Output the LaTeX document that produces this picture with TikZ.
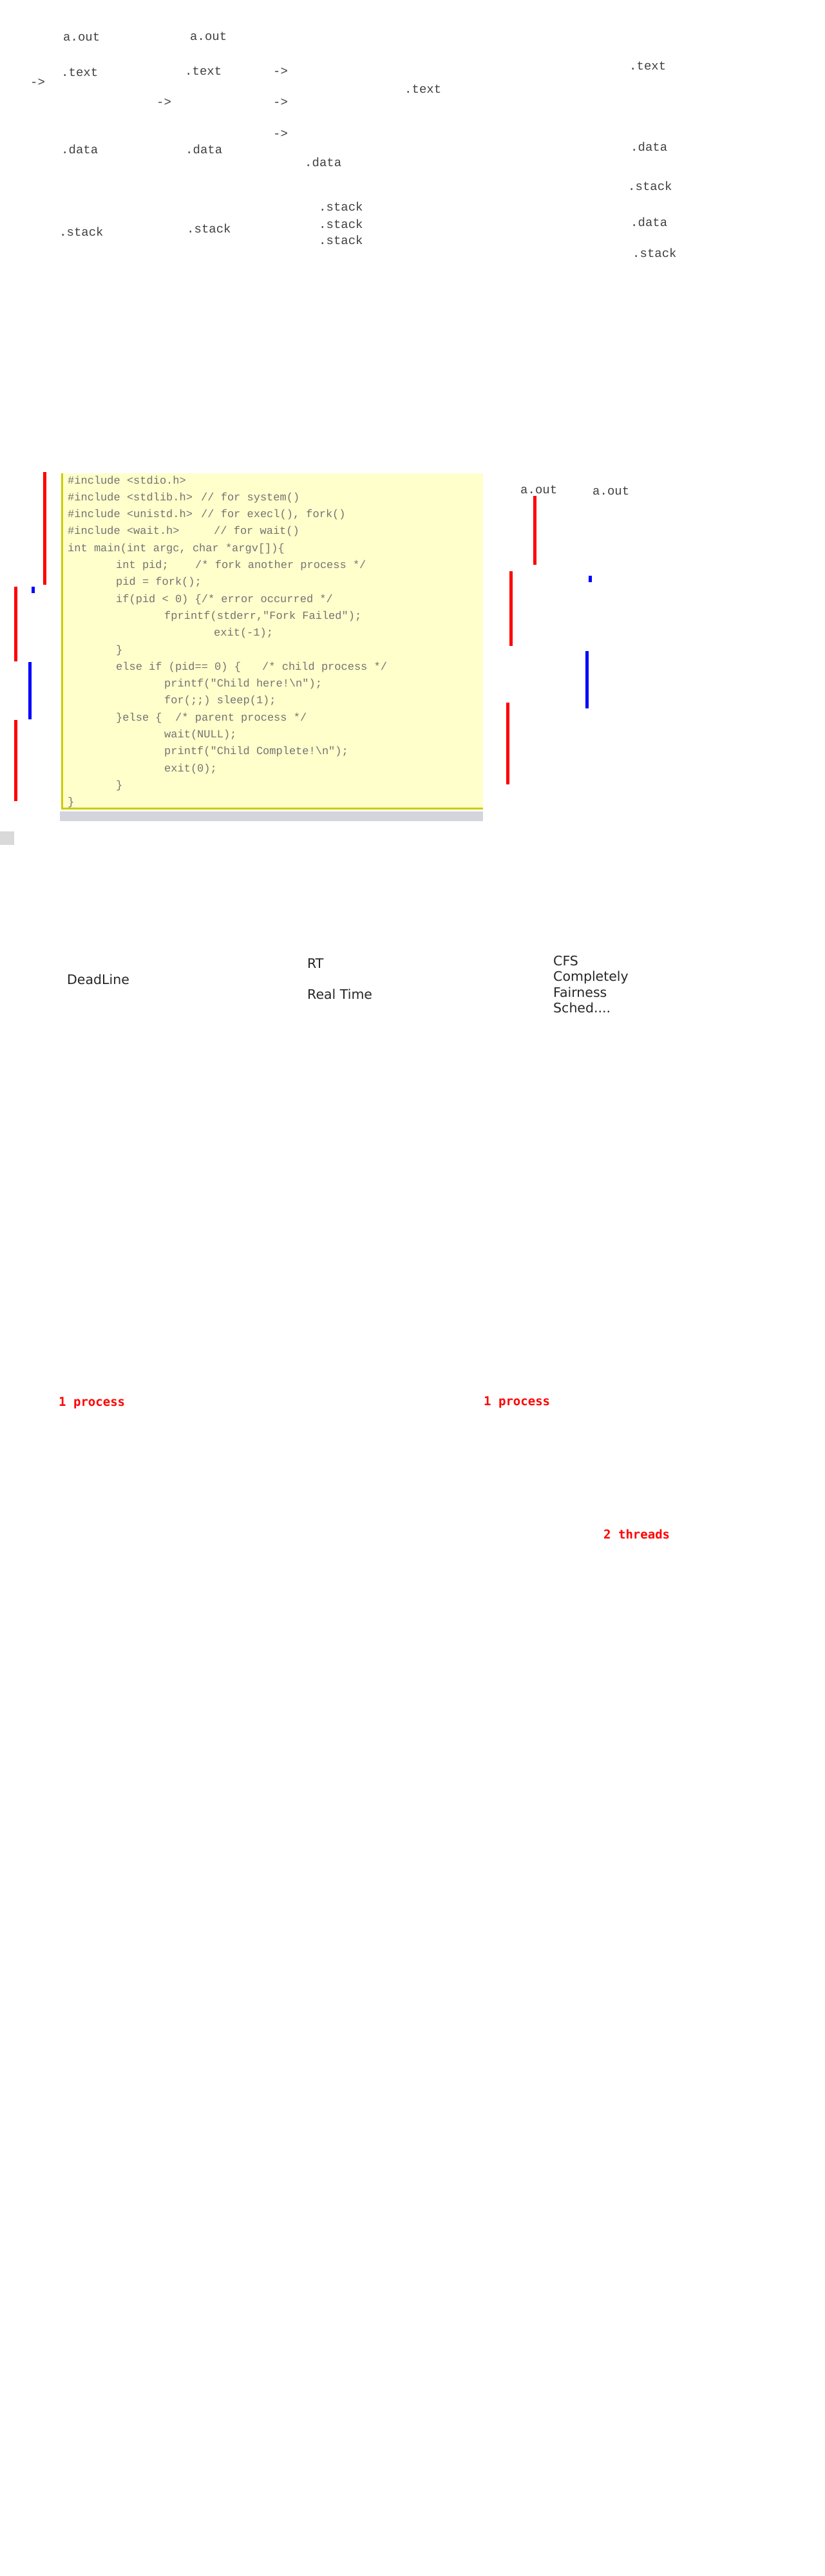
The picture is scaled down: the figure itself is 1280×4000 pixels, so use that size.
\documentclass[tikz,border=0pt]{standalone}
\usepackage{fontspec}
\newfontfamily\monofont{Liberation Mono}
\newfontfamily\labelfont{DejaVu Sans}
\newfontfamily\notefont{DejaVu Sans Mono}
\definecolor{codebg}{HTML}{FFFFCC}
\definecolor{codeedge}{HTML}{CCCC00}
\definecolor{shadowgray}{HTML}{D4D4DC}

\begin{document}
\begin{tikzpicture}[x=1pt, y=-1pt,
  seg/.style={anchor=base west, inner sep=0pt, font=\monofont\fontsize{19}{22}\selectfont, text=black!75},
  codeline/.style={anchor=base west, inner sep=0pt, font=\monofont\fontsize{17}{20}\selectfont, text=black!55},
  sched/.style={anchor=base west, inner sep=0pt, font=\labelfont\fontsize{20.5}{24}\selectfont, text=black!85},
  tally/.style={anchor=base west, inner sep=0pt, font=\notefont\bfseries\fontsize{19}{22}\selectfont, text=red}]

\fill[white] (0,0) rectangle (1280,4000);
\useasboundingbox (0,0) rectangle (1280,4000);

\foreach \n/\x/\y/\lbl in {aouta/98/63/a.out, aoutb/295/62/a.out, texta/95/118/.text, textb/287/116/.text, textc/628/144/.text, textd/977/108/.text, dataa/95/238/.data, datab/288/238/.data, datac/473/258/.data, datad/979/234/.data, datae/979/351/.data, stacka/92/366/.stack, stackb/290/361/.stack, stackc/495/327/.stack, stackd/495/354/.stack, stacke/495/379/.stack, stackf/975/295/.stack, stackg/982/399/.stack}
  {\node[seg] (\n) at (\x,\y) {\lbl};}
\foreach \n/\x/\y in {arra/47/133, arrb/243/164, arrc/424/116, arrd/424/164, arre/424/213}
  {\node[seg] (\n) at (\x,\y) {->};}

\fill[shadowgray] (93,1260) rectangle (750,1275);
\fill[codebg] (95,735) rectangle (750,1257);
\fill[codeedge] (95,735) rectangle (98,1257);
\fill[codeedge] (95,1254) rectangle (750,1257);
\fill[black!15] (0,1291) rectangle (22,1312);

\node[codeline] (inca) at (105,{751+26.3*0}) {\#include <stdio.h>};
\node[codeline] (incb) at (105,{751+26.3*1}) {\#include <stdlib.h>};
\node[codeline] (remb) at (312,{751+26.3*1}) {// for system()};
\node[codeline] (incc) at (105,{751+26.3*2}) {\#include <unistd.h>};
\node[codeline] (remc) at (312,{751+26.3*2}) {// for execl(), fork()};
\node[codeline] (incd) at (105,{751+26.3*3}) {\#include <wait.h>};
\node[codeline] (remd) at (332,{751+26.3*3}) {// for wait()};
\node[codeline] (mainln) at (105,{751+26.3*4}) {int main(int argc, char *argv[])\{};
\node[codeline] (pidln) at (180,{751+26.3*5}) {int pid;};
\node[codeline] (rempid) at (303,{751+26.3*5}) {/* fork another process */};
\node[codeline] (forkln) at (180,{751+26.3*6}) {pid = fork();};
\node[codeline] (ifln) at (180,{751+26.3*7}) {if(pid < 0) \{/* error occurred */};
\node[codeline] (errln) at (255,{751+26.3*8}) {fprintf(stderr,"Fork Failed");};
\node[codeline] (exitm) at (332,{751+26.3*9}) {exit(-1);};
\node[codeline] (closea) at (180,{751+26.3*10}) {\}};
\node[codeline] (elifln) at (180,{751+26.3*11}) {else if (pid== 0) \{};
\node[codeline] (remchild) at (407,{751+26.3*11}) {/* child process */};
\node[codeline] (childln) at (255,{751+26.3*12}) {printf("Child here!\textbackslash n");};
\node[codeline] (loopln) at (255,{751+26.3*13}) {for(;;) sleep(1);};
\node[codeline] (elseln) at (180,{751+26.3*14}) {\}else \{};
\node[codeline] (remparent) at (272,{751+26.3*14}) {/* parent process */};
\node[codeline] (waitln) at (255,{751+26.3*15}) {wait(NULL);};
\node[codeline] (doneln) at (255,{751+26.3*16}) {printf("Child Complete!\textbackslash n");};
\node[codeline] (exitz) at (255,{751+26.3*17}) {exit(0);};
\node[codeline] (closeb) at (180,{751+26.3*18}) {\}};
\node[codeline] (closec) at (105,{751+26.3*19}) {\}};

\node[seg] (aoutc) at (808,766) {a.out};
\node[seg] (aoutd) at (920,768) {a.out};

\foreach \x/\ya/\yb in {67/733/908, 22/911/1027, 22/1118/1244, 828/770/877, 791/887/1003, 786/1091/1218}
  {\fill[red] (\x,\ya) rectangle (\x+5,\yb);}
\foreach \x/\ya/\yb in {49/911/921, 44/1028/1117, 914/894/904, 909/1011/1100}
  {\fill[blue] (\x,\ya) rectangle (\x+5,\yb);}

\node[sched] (deadline) at (104,1528) {DeadLine};
\node[sched] (rt) at (477,1503) {RT};
\node[sched] (realtime) at (477,1551) {Real Time};
\node[sched] (cfsa) at (859,1499) {CFS};
\node[sched] (cfsb) at (859,1523) {Completely};
\node[sched] (cfsc) at (859,1548) {Fairness};
\node[sched] (cfsd) at (859,1572) {Sched....};

\node[tally] (proca) at (91,2183) {1 process};
\node[tally] (procb) at (751,2182) {1 process};
\node[tally] (threads) at (937,2389) {2 threads};

\end{tikzpicture}
\end{document}
